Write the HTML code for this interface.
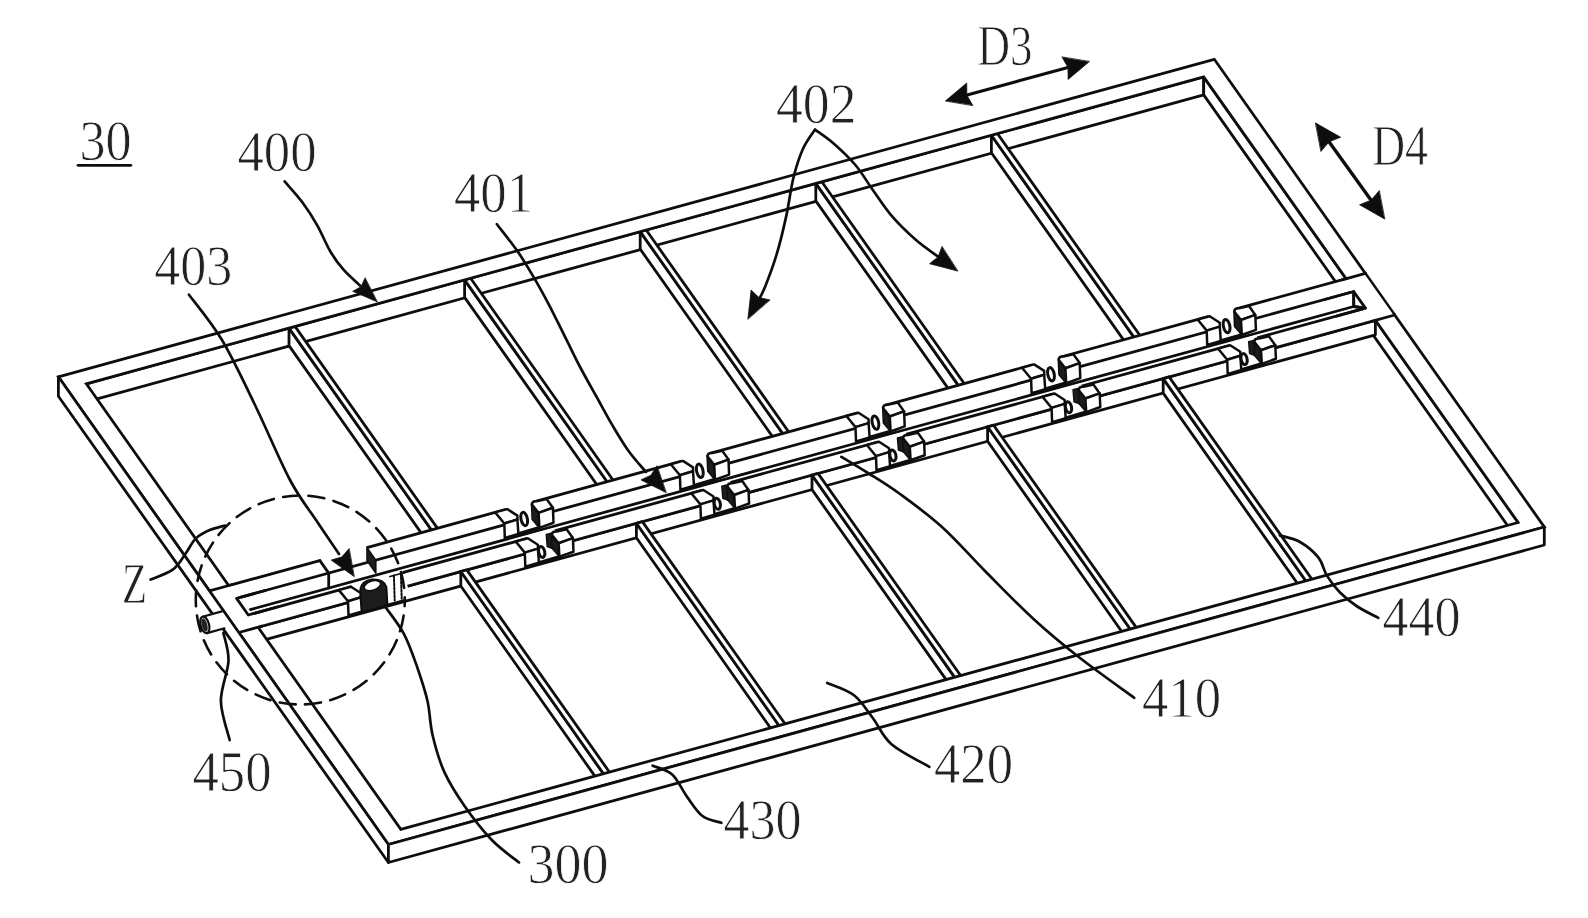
<!DOCTYPE html>
<html><head><meta charset="utf-8"><title>Fig</title>
<style>html,body{margin:0;padding:0;background:#fff;}svg{display:block;}text{font-family:"Liberation Serif",serif;}</style></head>
<body>
<svg width="1588" height="918" viewBox="0 0 1588 918" stroke-linecap="round" stroke-linejoin="round">
<defs><filter id="soft" x="0" y="0" width="100%" height="100%" filterUnits="userSpaceOnUse"><feGaussianBlur stdDeviation="0.55"/></filter></defs>
<rect x="0" y="0" width="1588" height="918" fill="#fff"/>
<g filter="url(#soft)">
<path d="M86.3,383.8 L1203.7,76.9 L1203.7,94.9 L86.3,401.8 Z" fill="#fff" stroke="#111" stroke-width="2.80"/>
<path d="M1203.7,76.9 L1518.1,522.5 L1518.1,540.5 L1203.7,94.9 Z" fill="#fff" stroke="#111" stroke-width="2.80"/>
<path d="M289.0,328.1 L432.6,531.6 L432.6,549.1 L289.0,345.6 Z" fill="#fff" stroke="#111" stroke-width="2.80"/>
<path d="M289.0,328.1 L295.0,326.4 L438.6,529.9 L432.6,531.6 Z" fill="#fff" stroke="#111" stroke-width="2.80"/>
<path d="M464.6,279.9 L608.2,483.3 L608.2,500.8 L464.6,297.4 Z" fill="#fff" stroke="#111" stroke-width="2.80"/>
<path d="M464.6,279.9 L470.6,278.2 L614.2,481.7 L608.2,483.3 Z" fill="#fff" stroke="#111" stroke-width="2.80"/>
<path d="M640.2,231.6 L783.8,435.1 L783.8,452.6 L640.2,249.1 Z" fill="#fff" stroke="#111" stroke-width="2.80"/>
<path d="M640.2,231.6 L646.2,230.0 L789.8,433.5 L783.8,435.1 Z" fill="#fff" stroke="#111" stroke-width="2.80"/>
<path d="M815.8,183.4 L959.4,386.9 L959.4,404.4 L815.8,200.9 Z" fill="#fff" stroke="#111" stroke-width="2.80"/>
<path d="M815.8,183.4 L821.8,181.7 L965.4,385.2 L959.4,386.9 Z" fill="#fff" stroke="#111" stroke-width="2.80"/>
<path d="M991.4,135.2 L1135.0,338.6 L1135.0,356.1 L991.4,152.7 Z" fill="#fff" stroke="#111" stroke-width="2.80"/>
<path d="M991.4,135.2 L997.4,133.5 L1141.0,337.0 L1135.0,338.6 Z" fill="#fff" stroke="#111" stroke-width="2.80"/>
<path d="M258.1,627.2 L1375.4,320.3 L1375.4,334.8 L258.1,641.7 Z" fill="#fff" stroke="#111" stroke-width="2.80"/>
<path d="M210.4,590.6 L1364.4,273.7 L1393.7,315.3 L239.8,632.2 Z" fill="#fff" stroke="none"/>
<path d="M209.4,590.9 L1365.4,273.4" fill="none" stroke="#111" stroke-width="2.80" />
<path d="M238.8,632.5 L1394.7,315.0" fill="none" stroke="#111" stroke-width="2.80" />
<path d="M236.6,598.4 L1353.7,291.5 L1365.4,308.1 L248.3,615.0 Z" fill="#fff" stroke="#111" stroke-width="2.80"/>
<path d="M249.6,609.8 L1353.7,306.5" fill="none" stroke="#111" stroke-width="2.80" />
<path d="M1353.7,291.5 L1353.7,306.5 L1365.4,308.1" fill="none" stroke="#111" stroke-width="2.80" />
<path d="M460.8,571.5 L604.6,775.4 L604.6,789.9 L460.8,586.0 Z" fill="#fff" stroke="#111" stroke-width="2.80"/>
<path d="M460.8,571.5 L466.8,569.9 L610.6,773.8 L604.6,775.4 Z" fill="#fff" stroke="#111" stroke-width="2.80"/>
<path d="M636.4,523.3 L780.2,727.2 L780.2,741.7 L636.4,537.8 Z" fill="#fff" stroke="#111" stroke-width="2.80"/>
<path d="M636.4,523.3 L642.4,521.6 L786.2,725.5 L780.2,727.2 Z" fill="#fff" stroke="#111" stroke-width="2.80"/>
<path d="M812.0,475.1 L955.8,678.9 L955.8,693.4 L812.0,489.6 Z" fill="#fff" stroke="#111" stroke-width="2.80"/>
<path d="M812.0,475.1 L818.0,473.4 L961.8,677.3 L955.8,678.9 Z" fill="#fff" stroke="#111" stroke-width="2.80"/>
<path d="M987.6,426.8 L1131.4,630.7 L1131.4,645.2 L987.6,441.3 Z" fill="#fff" stroke="#111" stroke-width="2.80"/>
<path d="M987.6,426.8 L993.6,425.2 L1137.4,629.1 L1131.4,630.7 Z" fill="#fff" stroke="#111" stroke-width="2.80"/>
<path d="M1163.2,378.6 L1307.0,582.5 L1307.0,597.0 L1163.2,393.1 Z" fill="#fff" stroke="#111" stroke-width="2.80"/>
<path d="M1163.2,378.6 L1169.1,376.9 L1313.0,580.8 L1307.0,582.5 Z" fill="#fff" stroke="#111" stroke-width="2.80"/>
<path d="M58.4,376.8 L1214.3,59.3 L1544.3,527.0 L388.4,844.5 Z M86.3,383.8 L400.8,829.4 L1518.1,522.5 L1203.7,76.9 Z" fill="#fff" fill-rule="evenodd" stroke="#111" stroke-width="2.80" stroke-linejoin="miter"/>
<path d="M211.3,591.6 L232.3,585.8 L260.3,625.4 L239.3,631.2 Z" fill="#fff" stroke="none"/>
<path d="M1343.9,280.5 L1364.9,274.7 L1392.9,314.3 L1371.8,320.1 Z" fill="#fff" stroke="none"/>
<path d="M209.4,590.9 L232.6,584.5" fill="none" stroke="#111" stroke-width="2.80" />
<path d="M238.8,632.5 L261.9,626.1" fill="none" stroke="#111" stroke-width="2.80" />
<path d="M1342.2,279.8 L1365.4,273.4" fill="none" stroke="#111" stroke-width="2.80" />
<path d="M1371.6,321.3 L1394.7,315.0" fill="none" stroke="#111" stroke-width="2.80" />
<path d="M265.5,590.4 L236.6,598.4 L248.3,615.0 L277.2,607.0" fill="none" stroke="#111" stroke-width="2.80" />
<path d="M1324.8,299.5 L1353.7,291.5 L1365.4,308.1 L1336.5,316.1" fill="none" stroke="#111" stroke-width="2.80" />
<path d="M1353.7,291.5 L1353.7,306.5 L1365.4,308.1" fill="none" stroke="#111" stroke-width="2.80" />
<path d="M506.2,506.4 L533.2,498.9 L541.2,513.9 L540.2,526.8 L505.2,536.8 L503.2,521.4 Z" fill="#fff" stroke="none"/>
<path d="M495.2,512.4 L507.3,509.1 L517.4,515.6 L517.4,519.5 L504.3,523.5 Z" fill="#fff" stroke="#111" stroke-width="2.50"/>
<path d="M504.3,523.5 L517.4,519.5 L518.4,533.9 L504.8,537.9 Z" fill="#fff" stroke="#111" stroke-width="2.50"/>
<path d="M518.4,533.9 L539.4,527.7" fill="none" stroke="#111" stroke-width="3.40" />
<ellipse cx="524.2" cy="519.0" rx="3.2" ry="6.8" fill="none" stroke="#111" stroke-width="3.00" transform="rotate(-12 524.2 519.0)"/>
<path d="M531.5,503.9 L538.6,512.9 L539.4,527.9 L532.2,519.4 Z" fill="#1a1a1a" stroke="#111" stroke-width="1.60"/>
<path d="M538.6,512.9 L531.8,504.4 Q532.2,500.8 536.7,501.2 L546.6,499.0 L552.9,507.8 Z" fill="#fff" stroke="#111" stroke-width="2.5"/>
<path d="M538.6,512.9 L552.9,507.8 L553.5,522.8 L539.4,527.9 Z" fill="#fff" stroke="#111" stroke-width="2.50"/>
<path d="M681.8,458.2 L708.8,450.7 L716.8,465.7 L715.8,478.6 L680.8,488.6 L678.8,473.2 Z" fill="#fff" stroke="none"/>
<path d="M670.8,464.2 L682.9,460.9 L693.0,467.4 L693.0,471.3 L679.9,475.3 Z" fill="#fff" stroke="#111" stroke-width="2.50"/>
<path d="M679.9,475.3 L693.0,471.3 L694.0,485.7 L680.4,489.7 Z" fill="#fff" stroke="#111" stroke-width="2.50"/>
<path d="M694.0,485.7 L715.0,479.5" fill="none" stroke="#111" stroke-width="3.40" />
<ellipse cx="699.8" cy="470.8" rx="3.2" ry="6.8" fill="none" stroke="#111" stroke-width="3.00" transform="rotate(-12 699.8 470.8)"/>
<path d="M707.1,455.7 L714.2,464.7 L715.0,479.7 L707.8,471.2 Z" fill="#1a1a1a" stroke="#111" stroke-width="1.60"/>
<path d="M714.2,464.7 L707.4,456.2 Q707.8,452.6 712.3,453.0 L722.2,450.8 L728.5,459.6 Z" fill="#fff" stroke="#111" stroke-width="2.5"/>
<path d="M714.2,464.7 L728.5,459.6 L729.1,474.6 L715.0,479.7 Z" fill="#fff" stroke="#111" stroke-width="2.50"/>
<path d="M857.4,410.0 L884.4,402.5 L892.4,417.5 L891.4,430.4 L856.4,440.4 L854.4,425.0 Z" fill="#fff" stroke="none"/>
<path d="M846.4,416.0 L858.5,412.7 L868.6,419.2 L868.6,423.1 L855.5,427.1 Z" fill="#fff" stroke="#111" stroke-width="2.50"/>
<path d="M855.5,427.1 L868.6,423.1 L869.6,437.5 L856.0,441.5 Z" fill="#fff" stroke="#111" stroke-width="2.50"/>
<path d="M869.6,437.5 L890.6,431.3" fill="none" stroke="#111" stroke-width="3.40" />
<ellipse cx="875.4" cy="422.6" rx="3.2" ry="6.8" fill="none" stroke="#111" stroke-width="3.00" transform="rotate(-12 875.4 422.6)"/>
<path d="M882.7,407.5 L889.8,416.5 L890.6,431.5 L883.4,423.0 Z" fill="#1a1a1a" stroke="#111" stroke-width="1.60"/>
<path d="M889.8,416.5 L883.0,408.0 Q883.4,404.4 887.9,404.8 L897.8,402.6 L904.1,411.4 Z" fill="#fff" stroke="#111" stroke-width="2.5"/>
<path d="M889.8,416.5 L904.1,411.4 L904.7,426.4 L890.6,431.5 Z" fill="#fff" stroke="#111" stroke-width="2.50"/>
<path d="M1033.0,361.7 L1060.0,354.2 L1068.0,369.2 L1067.0,382.1 L1032.0,392.1 L1030.0,376.7 Z" fill="#fff" stroke="none"/>
<path d="M1022.0,367.7 L1034.1,364.4 L1044.2,370.9 L1044.2,374.8 L1031.1,378.8 Z" fill="#fff" stroke="#111" stroke-width="2.50"/>
<path d="M1031.1,378.8 L1044.2,374.8 L1045.2,389.2 L1031.6,393.2 Z" fill="#fff" stroke="#111" stroke-width="2.50"/>
<path d="M1045.2,389.2 L1066.2,383.0" fill="none" stroke="#111" stroke-width="3.40" />
<ellipse cx="1051.0" cy="374.3" rx="3.2" ry="6.8" fill="none" stroke="#111" stroke-width="3.00" transform="rotate(-12 1051.0 374.3)"/>
<path d="M1058.3,359.2 L1065.4,368.2 L1066.2,383.2 L1059.0,374.7 Z" fill="#1a1a1a" stroke="#111" stroke-width="1.60"/>
<path d="M1065.4,368.2 L1058.6,359.7 Q1059.0,356.1 1063.5,356.5 L1073.4,354.3 L1079.7,363.1 Z" fill="#fff" stroke="#111" stroke-width="2.5"/>
<path d="M1065.4,368.2 L1079.7,363.1 L1080.3,378.1 L1066.2,383.2 Z" fill="#fff" stroke="#111" stroke-width="2.50"/>
<path d="M1208.6,313.5 L1235.6,306.0 L1243.6,321.0 L1242.6,333.9 L1207.6,343.9 L1205.6,328.5 Z" fill="#fff" stroke="none"/>
<path d="M1197.6,319.5 L1209.7,316.2 L1219.8,322.7 L1219.8,326.6 L1206.7,330.6 Z" fill="#fff" stroke="#111" stroke-width="2.50"/>
<path d="M1206.7,330.6 L1219.8,326.6 L1220.8,341.0 L1207.2,345.0 Z" fill="#fff" stroke="#111" stroke-width="2.50"/>
<path d="M1220.8,341.0 L1241.8,334.8" fill="none" stroke="#111" stroke-width="3.40" />
<ellipse cx="1226.6" cy="326.1" rx="3.2" ry="6.8" fill="none" stroke="#111" stroke-width="3.00" transform="rotate(-12 1226.6 326.1)"/>
<path d="M1233.9,311.0 L1241.0,320.0 L1241.8,335.0 L1234.6,326.5 Z" fill="#1a1a1a" stroke="#111" stroke-width="1.60"/>
<path d="M1241.0,320.0 L1234.2,311.5 Q1234.6,307.9 1239.1,308.3 L1249.0,306.1 L1255.3,314.9 Z" fill="#fff" stroke="#111" stroke-width="2.5"/>
<path d="M1241.0,320.0 L1255.3,314.9 L1255.9,329.9 L1241.8,335.0 Z" fill="#fff" stroke="#111" stroke-width="2.50"/>
<path d="M526.7,535.5 L553.7,528.0 L561.7,543.0 L560.7,555.7 L525.7,565.7 L523.7,550.5 Z" fill="#fff" stroke="none"/>
<path d="M515.7,541.5 L527.8,538.2 L537.9,544.7 L537.9,548.6 L524.8,552.6 Z" fill="#fff" stroke="#111" stroke-width="2.50"/>
<path d="M524.8,552.6 L537.9,548.6 L538.9,562.8 L525.3,566.8 Z" fill="#fff" stroke="#111" stroke-width="2.50"/>
<path d="M538.9,562.8 L559.9,556.6" fill="none" stroke="#111" stroke-width="3.40" />
<ellipse cx="541.7" cy="552.0" rx="3.0" ry="5.6" fill="none" stroke="#111" stroke-width="3.00" transform="rotate(-12 541.7 552.0)"/>
<path d="M546.2,534.5 L552.2,533.0 L552.7,548.5 L547.2,546.5 Z" fill="#1a1a1a" stroke="#111" stroke-width="1.40"/>
<path d="M551.5,534.2 L558.6,543.2 L559.4,556.8 L552.2,548.3 Z" fill="#1a1a1a" stroke="#111" stroke-width="1.60"/>
<path d="M558.6,543.2 L551.8,534.7 Q552.2,531.1 556.7,531.5 L566.6,529.3 L572.9,538.1 Z" fill="#fff" stroke="#111" stroke-width="2.5"/>
<path d="M558.6,543.2 L572.9,538.1 L573.5,551.7 L559.4,556.8 Z" fill="#fff" stroke="#111" stroke-width="2.50"/>
<path d="M702.3,487.3 L729.3,479.8 L737.3,494.8 L736.3,507.5 L701.3,517.5 L699.3,502.3 Z" fill="#fff" stroke="none"/>
<path d="M691.3,493.3 L703.4,490.0 L713.5,496.5 L713.5,500.4 L700.4,504.4 Z" fill="#fff" stroke="#111" stroke-width="2.50"/>
<path d="M700.4,504.4 L713.5,500.4 L714.5,514.6 L700.9,518.6 Z" fill="#fff" stroke="#111" stroke-width="2.50"/>
<path d="M714.5,514.6 L735.5,508.4" fill="none" stroke="#111" stroke-width="3.40" />
<ellipse cx="717.3" cy="503.8" rx="3.0" ry="5.6" fill="none" stroke="#111" stroke-width="3.00" transform="rotate(-12 717.3 503.8)"/>
<path d="M721.8,486.3 L727.8,484.8 L728.3,500.3 L722.8,498.3 Z" fill="#1a1a1a" stroke="#111" stroke-width="1.40"/>
<path d="M727.1,486.0 L734.2,495.0 L735.0,508.6 L727.8,500.1 Z" fill="#1a1a1a" stroke="#111" stroke-width="1.60"/>
<path d="M734.2,495.0 L727.4,486.5 Q727.8,482.9 732.3,483.3 L742.2,481.1 L748.5,489.9 Z" fill="#fff" stroke="#111" stroke-width="2.5"/>
<path d="M734.2,495.0 L748.5,489.9 L749.1,503.5 L735.0,508.6 Z" fill="#fff" stroke="#111" stroke-width="2.50"/>
<path d="M877.9,439.0 L904.9,431.5 L912.9,446.5 L911.9,459.2 L876.9,469.2 L874.9,454.0 Z" fill="#fff" stroke="none"/>
<path d="M866.9,445.0 L879.0,441.7 L889.1,448.2 L889.1,452.1 L876.0,456.1 Z" fill="#fff" stroke="#111" stroke-width="2.50"/>
<path d="M876.0,456.1 L889.1,452.1 L890.1,466.3 L876.5,470.3 Z" fill="#fff" stroke="#111" stroke-width="2.50"/>
<path d="M890.1,466.3 L911.1,460.1" fill="none" stroke="#111" stroke-width="3.40" />
<ellipse cx="892.9" cy="455.5" rx="3.0" ry="5.6" fill="none" stroke="#111" stroke-width="3.00" transform="rotate(-12 892.9 455.5)"/>
<path d="M897.4,438.0 L903.4,436.5 L903.9,452.0 L898.4,450.0 Z" fill="#1a1a1a" stroke="#111" stroke-width="1.40"/>
<path d="M902.7,437.7 L909.8,446.7 L910.6,460.3 L903.4,451.8 Z" fill="#1a1a1a" stroke="#111" stroke-width="1.60"/>
<path d="M909.8,446.7 L903.0,438.2 Q903.4,434.6 907.9,435.0 L917.8,432.8 L924.1,441.6 Z" fill="#fff" stroke="#111" stroke-width="2.5"/>
<path d="M909.8,446.7 L924.1,441.6 L924.7,455.2 L910.6,460.3 Z" fill="#fff" stroke="#111" stroke-width="2.50"/>
<path d="M1053.5,390.8 L1080.5,383.3 L1088.5,398.3 L1087.5,411.0 L1052.5,421.0 L1050.5,405.8 Z" fill="#fff" stroke="none"/>
<path d="M1042.5,396.8 L1054.6,393.5 L1064.7,400.0 L1064.7,403.9 L1051.6,407.9 Z" fill="#fff" stroke="#111" stroke-width="2.50"/>
<path d="M1051.6,407.9 L1064.7,403.9 L1065.7,418.1 L1052.1,422.1 Z" fill="#fff" stroke="#111" stroke-width="2.50"/>
<path d="M1065.7,418.1 L1086.7,411.9" fill="none" stroke="#111" stroke-width="3.40" />
<ellipse cx="1068.5" cy="407.3" rx="3.0" ry="5.6" fill="none" stroke="#111" stroke-width="3.00" transform="rotate(-12 1068.5 407.3)"/>
<path d="M1073.0,389.8 L1079.0,388.3 L1079.5,403.8 L1074.0,401.8 Z" fill="#1a1a1a" stroke="#111" stroke-width="1.40"/>
<path d="M1078.3,389.5 L1085.4,398.5 L1086.2,412.1 L1079.0,403.6 Z" fill="#1a1a1a" stroke="#111" stroke-width="1.60"/>
<path d="M1085.4,398.5 L1078.6,390.0 Q1079.0,386.4 1083.5,386.8 L1093.4,384.6 L1099.7,393.4 Z" fill="#fff" stroke="#111" stroke-width="2.5"/>
<path d="M1085.4,398.5 L1099.7,393.4 L1100.3,407.0 L1086.2,412.1 Z" fill="#fff" stroke="#111" stroke-width="2.50"/>
<path d="M1229.1,342.6 L1256.1,335.1 L1264.1,350.1 L1263.1,362.8 L1228.1,372.8 L1226.1,357.6 Z" fill="#fff" stroke="none"/>
<path d="M1218.1,348.6 L1230.2,345.3 L1240.3,351.8 L1240.3,355.7 L1227.2,359.7 Z" fill="#fff" stroke="#111" stroke-width="2.50"/>
<path d="M1227.2,359.7 L1240.3,355.7 L1241.3,369.9 L1227.7,373.9 Z" fill="#fff" stroke="#111" stroke-width="2.50"/>
<path d="M1241.3,369.9 L1262.3,363.7" fill="none" stroke="#111" stroke-width="3.40" />
<ellipse cx="1244.1" cy="359.1" rx="3.0" ry="5.6" fill="none" stroke="#111" stroke-width="3.00" transform="rotate(-12 1244.1 359.1)"/>
<path d="M1248.6,341.6 L1254.6,340.1 L1255.1,355.6 L1249.6,353.6 Z" fill="#1a1a1a" stroke="#111" stroke-width="1.40"/>
<path d="M1253.9,341.3 L1261.0,350.3 L1261.8,363.9 L1254.6,355.4 Z" fill="#1a1a1a" stroke="#111" stroke-width="1.60"/>
<path d="M1261.0,350.3 L1254.2,341.8 Q1254.6,338.2 1259.1,338.6 L1269.0,336.4 L1275.3,345.2 Z" fill="#fff" stroke="#111" stroke-width="2.5"/>
<path d="M1261.0,350.3 L1275.3,345.2 L1275.9,358.8 L1261.8,363.9 Z" fill="#fff" stroke="#111" stroke-width="2.50"/>
<path d="M320.8,560.3 L366.5,547.8" stroke="#fff" stroke-width="4.6" fill="none" stroke-linecap="butt"/>
<path d="M319.9,560.6 L328.7,573.1 L328.7,588.1" fill="none" stroke="#111" stroke-width="2.80" />
<path d="M367.0,547.6 L375.8,560.1 L375.8,573.1 L367.0,560.6 Z" fill="#1a1a1a" stroke="#111" stroke-width="1.60"/>
<path d="M351.5,586.6 L402.6,572.6" stroke="#fff" stroke-width="4.6" fill="none" stroke-linecap="butt"/>
<path d="M357.4,599.9 L407.5,586.1" stroke="#fff" stroke-width="4.6" fill="none" stroke-linecap="butt"/>
<path d="M338.9,590.1 L351.0,586.8 L361.1,593.3 L361.1,597.2 L348.0,601.2 Z" fill="#fff" stroke="#111" stroke-width="2.50"/>
<path d="M348.0,601.2 L361.1,597.2 L362.1,611.4 L348.5,615.4 Z" fill="#fff" stroke="#111" stroke-width="2.50"/>
<path d="M360.4,596.1 L360.4,589.1 Q361.9,581.1 371.9,579.6 Q383.9,579.1 386.4,587.1 L387.4,605.1 L361.9,612.1 Z" fill="#1a1a1a" stroke="#111" stroke-width="2"/>
<ellipse cx="372.4" cy="585.6" rx="8.5" ry="4.6" fill="#fff" stroke="#111" stroke-width="1.60" transform="rotate(-18 372.4 585.6)"/>
<path d="M393.9,575.6 L394.7,600.6" fill="none" stroke="#111" stroke-width="2.00" stroke-dasharray="2.4 1.5"/>
<path d="M400.9,573.7 L401.7,598.7" fill="none" stroke="#111" stroke-width="2.00" stroke-dasharray="2.4 1.5"/>
<path d="M387.4,605.1 L404.9,600.3" fill="none" stroke="#111" stroke-width="2.60" />
<path d="M389.9,576.5 L404.9,572.5" fill="none" stroke="#111" stroke-width="1.80" />
<path d="M58.4,376.8 L388.4,844.5 L388.4,862.5 L58.4,396.3 Z" fill="#fff" stroke="#111" stroke-width="2.80"/>
<path d="M388.4,844.5 L1544.3,527.0 L1544.3,545.0 L388.4,862.5 Z" fill="#fff" stroke="#111" stroke-width="2.80"/>
<g transform="translate(213.5,622.5) rotate(-15.4)"><path d="M-9,-8.5 L10,-8.5 L10,8.5 L-9,8.5 Z" fill="#fff" stroke="none"/><path d="M-9,-8.5 L11,-8.5 M-9,8.5 L9,8.5" fill="none" stroke="#111" stroke-width="2.2"/><ellipse cx="-9" cy="0" rx="4.2" ry="8.5" fill="#fff" stroke="#111" stroke-width="2.2"/><ellipse cx="-9.3" cy="0" rx="2.8" ry="6.8" fill="#222" stroke="none"/></g>
<circle cx="300.3" cy="600.0" r="104.5" fill="none" stroke="#111" stroke-width="2.6" stroke-dasharray="16 9.5" stroke-dashoffset="9.8"/>
<text x="79.5" y="160.0" font-size="56" textLength="52.0" lengthAdjust="spacingAndGlyphs" fill="#222" stroke="#fff" stroke-width="0.8">30</text>
<path d="M78.0,165.3 L130.8,165.3" fill="none" stroke="#111" stroke-width="2.80" />
<text x="237.5" y="170.5" font-size="56" textLength="79.0" lengthAdjust="spacingAndGlyphs" fill="#222" stroke="#fff" stroke-width="0.8">400</text>
<text x="454.0" y="212.2" font-size="56" textLength="79.0" lengthAdjust="spacingAndGlyphs" fill="#222" stroke="#fff" stroke-width="0.8">401</text>
<text x="154.2" y="285.2" font-size="56" textLength="78.0" lengthAdjust="spacingAndGlyphs" fill="#222" stroke="#fff" stroke-width="0.8">403</text>
<text x="776.0" y="122.8" font-size="56" textLength="80.5" lengthAdjust="spacingAndGlyphs" fill="#222" stroke="#fff" stroke-width="0.8">402</text>
<text x="977.5" y="64.8" font-size="56" textLength="55.0" lengthAdjust="spacingAndGlyphs" fill="#222" stroke="#fff" stroke-width="0.8">D3</text>
<text x="1372.0" y="165.0" font-size="56" textLength="56.0" lengthAdjust="spacingAndGlyphs" fill="#222" stroke="#fff" stroke-width="0.8">D4</text>
<text x="1382.5" y="636.2" font-size="56" textLength="78.0" lengthAdjust="spacingAndGlyphs" fill="#222" stroke="#fff" stroke-width="0.8">440</text>
<text x="1142.0" y="716.8" font-size="56" textLength="79.0" lengthAdjust="spacingAndGlyphs" fill="#222" stroke="#fff" stroke-width="0.8">410</text>
<text x="934.0" y="782.6" font-size="56" textLength="79.0" lengthAdjust="spacingAndGlyphs" fill="#222" stroke="#fff" stroke-width="0.8">420</text>
<text x="723.5" y="839.2" font-size="56" textLength="78.0" lengthAdjust="spacingAndGlyphs" fill="#222" stroke="#fff" stroke-width="0.8">430</text>
<text x="527.5" y="883.2" font-size="56" textLength="81.0" lengthAdjust="spacingAndGlyphs" fill="#222" stroke="#fff" stroke-width="0.8">300</text>
<text x="192.5" y="791.0" font-size="56" textLength="79.0" lengthAdjust="spacingAndGlyphs" fill="#222" stroke="#fff" stroke-width="0.8">450</text>
<text x="122.0" y="603.4" font-size="56" textLength="25.0" lengthAdjust="spacingAndGlyphs" fill="#222" stroke="#fff" stroke-width="0.8">Z</text>
<path d="M284.6,181.4 C287.6,184.9 297.2,195.3 302.7,202.7 C308.2,210.1 312.8,217.4 317.4,225.6 C322.0,233.8 326.1,244.3 330.5,251.7 C334.9,259.1 338.6,264.1 343.5,269.7 C348.4,275.3 357.2,282.9 360.0,285.5" fill="none" stroke="#111" stroke-width="2.70"/>
<path d="M377.1,301.8 L352.7,291.3 L361.0,286.8 L365.0,278.1 Z" fill="#111" stroke="#111" stroke-width="0.8" stroke-linejoin="miter"/>
<path d="M496.9,224.2 C500.3,228.7 511.3,242.4 517.4,251.1 C523.5,259.8 527.9,267.4 533.2,276.4 C538.5,285.3 543.7,294.8 549.0,304.8 C554.3,314.8 559.5,325.9 564.8,336.4 C570.1,346.9 575.3,358.0 580.6,368.0 C585.9,378.0 591.1,387.0 596.4,396.5 C601.7,406.0 606.9,415.9 612.2,424.9 C617.5,433.8 622.4,442.3 628.0,450.2 C633.6,458.1 643.0,468.4 646.0,472.0" fill="none" stroke="#111" stroke-width="2.70"/>
<path d="M666.0,492.6 L641.0,479.9 L650.9,475.2 L656.9,466.1 Z" fill="#111" stroke="#111" stroke-width="0.8" stroke-linejoin="miter"/>
<path d="M189.0,294.7 C194.5,302.2 211.0,321.6 222.0,340.0 C233.0,358.4 243.7,381.7 255.0,405.0 C266.3,428.3 279.8,460.8 290.0,480.0 C300.2,499.2 307.8,507.7 316.0,520.0 C324.2,532.3 335.2,548.3 339.0,554.0" fill="none" stroke="#111" stroke-width="2.70"/>
<path d="M354.0,576.4 L331.2,560.1 L341.7,557.0 L349.0,548.8 Z" fill="#111" stroke="#111" stroke-width="0.8" stroke-linejoin="miter"/>
<path d="M815.0,129.6 C813.0,132.8 806.6,140.8 803.0,148.8 C799.4,156.8 796.3,166.3 793.5,177.5 C790.7,188.7 789.1,203.1 786.3,215.9 C783.5,228.7 780.3,242.2 776.7,254.2 C773.1,266.2 768.0,279.6 764.7,287.7 C761.4,295.8 758.3,300.4 757.0,303.0" fill="none" stroke="#111" stroke-width="2.70"/>
<path d="M747.9,318.9 L751.1,290.1 L759.0,297.6 L769.7,299.9 Z" fill="#111" stroke="#111" stroke-width="0.8" stroke-linejoin="miter"/>
<path d="M815.0,129.6 C818.2,132.0 827.4,138.0 834.2,144.0 C841.0,150.0 849.4,157.9 855.8,165.5 C862.2,173.1 866.5,181.1 872.5,189.5 C878.5,197.9 884.5,207.5 891.7,215.9 C898.9,224.3 908.0,233.0 915.7,239.8 C923.4,246.6 934.3,253.7 938.0,256.5" fill="none" stroke="#111" stroke-width="2.70"/>
<path d="M957.6,271.0 L929.6,263.7 L938.1,256.9 L941.9,246.7 Z" fill="#111" stroke="#111" stroke-width="0.8" stroke-linejoin="miter"/>
<path d="M956.0,98.0 L1079.0,64.5" fill="none" stroke="#111" stroke-width="3.20" />
<path d="M945.6,100.8 L966.7,83.1 L966.8,95.0 L972.7,105.3 Z" fill="#111" stroke="#111" stroke-width="0.8" stroke-linejoin="miter"/>
<path d="M1089.2,61.7 L1068.1,79.4 L1068.0,67.5 L1062.1,57.2 Z" fill="#111" stroke="#111" stroke-width="0.8" stroke-linejoin="miter"/>
<path d="M1322.0,132.0 L1378.5,210.5" fill="none" stroke="#111" stroke-width="3.40" />
<path d="M1315.7,123.1 L1340.6,137.2 L1329.1,141.8 L1321.1,151.2 Z" fill="#111" stroke="#111" stroke-width="0.8" stroke-linejoin="miter"/>
<path d="M1384.5,218.9 L1359.6,204.8 L1371.1,200.2 L1379.1,190.8 Z" fill="#111" stroke="#111" stroke-width="0.8" stroke-linejoin="miter"/>
<path d="M1279.8,535.4 C1283.2,536.5 1293.5,538.3 1300.0,542.0 C1306.5,545.7 1314.0,552.0 1318.5,557.6 C1323.0,563.2 1323.3,569.8 1326.9,575.6 C1330.5,581.4 1334.9,587.4 1340.0,592.5 C1345.1,597.6 1350.9,602.3 1357.3,606.5 C1363.7,610.7 1374.8,616.0 1378.3,617.9" fill="none" stroke="#111" stroke-width="2.70"/>
<path d="M841.4,456.8 C845.8,459.5 858.2,466.8 868.0,473.0 C877.8,479.2 887.7,485.0 900.0,494.0 C912.3,503.0 927.8,514.2 942.0,527.0 C956.2,539.8 969.8,555.7 985.0,571.0 C1000.2,586.3 1017.7,604.5 1033.5,619.0 C1049.3,633.5 1063.2,644.9 1080.0,658.0 C1096.8,671.1 1125.2,691.2 1134.2,697.8" fill="none" stroke="#111" stroke-width="2.70"/>
<path d="M827.2,682.9 C831.6,684.9 846.1,689.2 853.7,695.0 C861.3,700.8 866.3,709.5 872.6,717.7 C878.9,725.9 882.0,736.0 891.5,744.2 C901.0,752.4 923.0,763.0 929.3,766.8" fill="none" stroke="#111" stroke-width="2.70"/>
<path d="M652.6,765.7 C655.9,767.2 666.4,769.2 672.2,774.4 C678.0,779.6 682.2,790.2 687.3,797.1 C692.3,804.0 696.8,811.7 702.5,816.0 C708.2,820.3 718.2,821.7 721.4,822.8" fill="none" stroke="#111" stroke-width="2.70"/>
<path d="M385.3,606.9 C388.4,611.4 398.5,623.8 403.9,633.9 C409.2,644.0 413.4,656.4 417.4,667.7 C421.3,679.0 425.1,690.2 427.6,701.5 C430.1,712.8 429.8,723.5 432.6,735.3 C435.4,747.1 439.1,760.6 444.5,772.4 C449.9,784.2 456.8,794.9 464.7,806.2 C472.6,817.5 482.8,830.6 491.8,840.0 C500.9,849.4 514.5,858.8 519.0,862.5" fill="none" stroke="#111" stroke-width="2.70"/>
<path d="M223.4,633.0 C224.2,637.6 228.9,649.5 228.5,660.8 C228.1,672.1 220.7,687.8 220.9,701.0 C221.1,714.2 228.2,733.6 229.7,740.1" fill="none" stroke="#111" stroke-width="2.70"/>
<path d="M150.6,579.5 C154.3,577.9 166.8,574.1 172.7,569.7 C178.6,565.3 182.0,558.5 185.8,553.3 C189.6,548.1 191.8,542.4 195.6,538.6 C199.4,534.8 203.7,532.7 208.6,530.5 C213.5,528.3 222.3,526.4 225.0,525.6" fill="none" stroke="#111" stroke-width="2.70"/>
</g>
</svg>
</body></html>
